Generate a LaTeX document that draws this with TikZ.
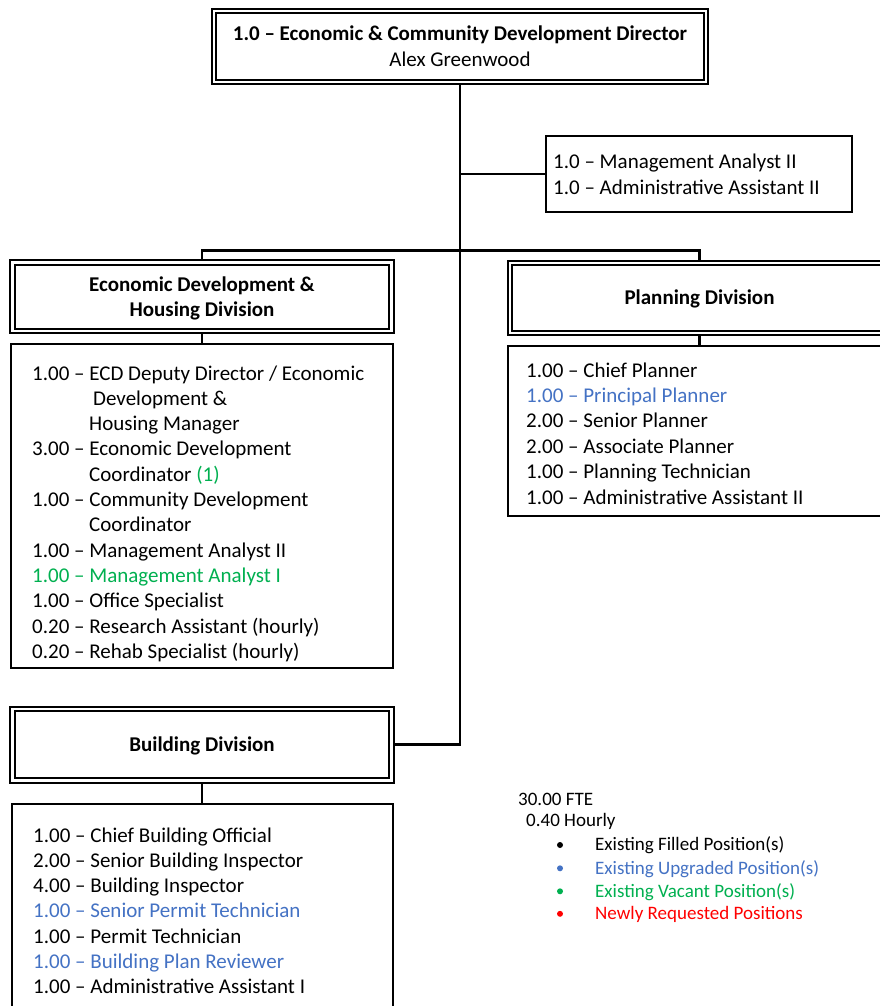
\documentclass[tikz,border=0pt]{standalone}
\usepackage{fontspec}
\setmainfont{Carlito}
\usetikzlibrary{backgrounds}
\definecolor{upgraded}{HTML}{4472C4}
\definecolor{vacant}{HTML}{00B050}
\definecolor{requested}{HTML}{FF0000}

\tikzset{
  dbox/.style={draw, line width=2.2pt, double, double distance=2.1pt, inner sep=0pt,
    align=center, font=\bfseries\fontsize{21}{25.3}\selectfont},
  lbox/.style={draw, line width=2pt, inner sep=0pt},
  link/.style={line width=2.6pt},
  item/.style={anchor=base west, inner sep=0pt, font=\fontsize{21}{25.3}\selectfont},
  legitem/.style={anchor=base west, inner sep=0pt, font=\fontsize{19}{23}\selectfont},
  dot/.style={circle, fill, inner sep=0pt, minimum size=6pt},
}

\begin{document}
\begin{tikzpicture}[x=1pt,y=-1pt]
\useasboundingbox (0,0) rectangle (880,1006);
\clip (0,0) rectangle (880,1006);

% director
\node[dbox, minimum width=492pt, minimum height=71pt] (dir) at (460,46.3)
  {1.0 – Economic \& Community Development Director\\\mdseries Alex Greenwood};

% staff box beside the trunk
\node[lbox, minimum width=305.7pt, minimum height=76pt] (mgmt) at (698.9,174) {};
\node[item] (m1) at (553,168) {1.0 – Management Analyst II};
\node[item] (m2) at (553,194) {1.0 – Administrative Assistant II};

% division headers
\node[dbox, minimum width=379pt, minimum height=68.5pt, text depth=0pt] (edh) at (202,296.75)
  {Economic Development \&\\Housing Division};
\node[dbox, minimum width=379pt, minimum height=70pt, text depth=1pt] (pl) at (699.5,298)
  {Planning Division};
\node[dbox, minimum width=379pt, minimum height=71.5pt, text depth=1pt] (bld) at (202,744.75)
  {Building Division};

% division staff lists
\node[lbox, minimum width=382pt, minimum height=324.3pt] (edhl) at (202.3,505.8) {};
\node[lbox, minimum width=382pt, minimum height=169.4pt] (pll) at (699,431) {};
\node[lbox, minimum width=381pt, minimum height=220pt, anchor=north] (bldl) at (202.5,803) {};

% Economic Development & Housing
\node[item] (e1) at (32,380) {1.00 – ECD Deputy Director / Economic};
\node[item] (e2) at (93,405.3) {Development \&};
\node[item] (e3) at (89,430.6) {Housing Manager};
\node[item] (e4) at (32,455.9) {3.00 – Economic Development};
\node[item] (e5) at (89,481.2) {Coordinator \textcolor{vacant}{(1)}};
\node[item] (e6) at (32,506.5) {1.00 – Community Development};
\node[item] (e7) at (89,531.8) {Coordinator};
\node[item] (e8) at (32,557.1) {1.00 – Management Analyst II};
\node[item, text=vacant] (e9) at (32,582.4) {1.00 – Management Analyst I};
\node[item] (e10) at (32,607.7) {1.00 – Office Specialist};
\node[item] (e11) at (32,633) {0.20 – Research Assistant (hourly)};
\node[item] (e12) at (32,658.3) {0.20 – Rehab Specialist (hourly)};

% Planning
\node[item] (p1) at (526,377) {1.00 – Chief Planner};
\node[item, text=upgraded] (p2) at (526,402.4) {1.00 – Principal Planner};
\node[item] (p3) at (526,427.8) {2.00 – Senior Planner};
\node[item] (p4) at (526,453.2) {2.00 – Associate Planner};
\node[item] (p5) at (526,478.6) {1.00 – Planning Technician};
\node[item] (p6) at (526,504) {1.00 – Administrative Assistant II};

% Building
\node[item] (b1) at (33,842) {1.00 – Chief Building Official};
\node[item] (b2) at (33,867.3) {2.00 – Senior Building Inspector};
\node[item] (b3) at (33,892.6) {4.00 – Building Inspector};
\node[item, text=upgraded] (b4) at (33,917.9) {1.00 – Senior Permit Technician};
\node[item] (b5) at (33,943.2) {1.00 – Permit Technician};
\node[item, text=upgraded] (b6) at (33,968.5) {1.00 – Building Plan Reviewer};
\node[item] (b7) at (33,993.8) {1.00 – Administrative Assistant I};

% totals and key
\node[legitem] (fte) at (518,805) {30.00 FTE};
\node[legitem] (hourly) at (526,826.7) {0.40 Hourly};
\node[dot] (k1) at (560,845) {};
\node[legitem] (l1) at (595,850.7) {Existing Filled Position(s)};
\node[dot, fill=upgraded] (k2) at (560,868.3) {};
\node[legitem, text=upgraded] (l2) at (595,874) {Existing Upgraded Position(s)};
\node[dot, fill=vacant] (k3) at (560,891.3) {};
\node[legitem, text=vacant] (l3) at (595,897) {Existing Vacant Position(s)};
\node[dot, fill=requested] (k4) at (560,913.8) {};
\node[legitem, text=requested] (l4) at (595,919.5) {Newly Requested Positions};

% reporting lines
\begin{scope}[on background layer]
  \fill[white] (0,0) rectangle (880,1006);
  \coordinate (bus) at (0,250.7);
  \draw[link] (dir.south) -- (dir.south |- bld.east) -- (bld.east);
  \draw[link] (dir.south |- mgmt.west) -- (mgmt.west);
  \draw[link] (edh.north) -- (edh.north |- bus) -- (pl.north |- bus) -- (pl.north);
  \draw[link] (edh.south) -- (edh.south |- edhl.north);
  \draw[link] (pl.south) -- (pl.south |- pll.north);
  \draw[link] (bld.south) -- (bld.south |- bldl.north);
\end{scope}
\end{tikzpicture}
\end{document}
